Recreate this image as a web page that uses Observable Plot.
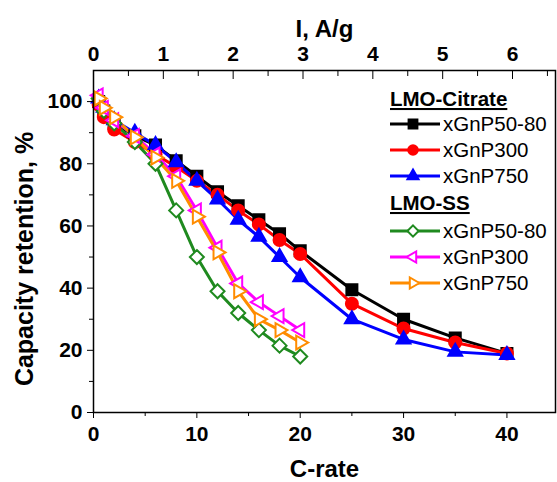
<!DOCTYPE html>
<html><head><meta charset="utf-8">
<script src="https://cdn.jsdelivr.net/npm/d3@7"></script>
<script src="https://cdn.jsdelivr.net/npm/@observablehq/plot@0.6"></script>
<style>body{margin:0;background:#fff}#chart{width:557px;height:482px}</style>
</head><body><div id="chart"></div>
<script>
// ---- data ----
const citrateRate = [0.5, 1, 2, 4, 6, 8, 10, 12, 14, 16, 18, 20, 25, 30, 35, 40];
const ssRate = [0.5, 1, 2, 4, 6, 8, 10, 12, 14, 16, 18, 20];
const citrate5080 = [100, 97, 93, 89, 86, 81, 76, 71, 66.5, 62, 57.5, 52, 39.5, 30, 24, 19];
const citrate300  = [99, 95, 91, 87, 83, 79, 74.5, 70, 65, 60.5, 55.5, 51, 35, 27, 22.5, 19];
const citrate750  = [101, 98, 94, 90, 86, 80.5, 74.5, 68.5, 62, 56.5, 50, 43.5, 30, 23.5, 19.5, 18.5];
const ss5080 = [101, 97, 93, 87, 80, 65, 50, 39, 32, 26.5, 21.5, 18];
const ss300  = [102, 98, 94, 89, 83, 76, 65, 53, 41.5, 35.5, 31, 26.5];
const ss750  = [101, 98, 95, 88.5, 82, 74.5, 63, 51.5, 39, 30, 26.5, 22.5];
const xTicks = [0, 10, 20, 30, 40];
const xMinor = [5, 15, 25, 35];
const yTicks = [0, 20, 40, 60, 80, 100];
const yMinor = [10, 30, 50, 70, 90];
const iTicks = [0, 1, 2, 3, 4, 5, 6];
const iMinor = [0.5, 1.5, 2.5, 3.5, 4.5, 5.5, 6.5];
const ampPerC = 0.148; // A/g per 1C (top axis conversion)
const legendGroups = ["LMO-Citrate", "LMO-SS"];
const seriesNames = ["xGnP50-80", "xGnP300", "xGnP750"];
const titles = {x: "C-rate", top: "I, A/g", y: "Capacity retention, %"};

// ---- symbols ----
const rOf = s => Math.sqrt(s / Math.PI);
const symSquare = {draw(c, s){const r=rOf(s); c.moveTo(-r,-r); c.lineTo(r,-r); c.lineTo(r,r); c.lineTo(-r,r); c.closePath();}};
const symCircle = {draw(c, s){const r=rOf(s); c.moveTo(r,0); c.arc(0,0,r,0,2*Math.PI);}};
const symTriUp = {draw(c, s){const R=rOf(s), h=R*Math.sqrt(3)/2; c.moveTo(0,-R); c.lineTo(h,R/2); c.lineTo(-h,R/2); c.closePath();}};
const symDiamond = {draw(c, s){const r=rOf(s); c.moveTo(0,-r); c.lineTo(r,0); c.lineTo(0,r); c.lineTo(-r,0); c.closePath();}};
const symTriLeft = {draw(c, s){const R=rOf(s), h=R*Math.sqrt(3)/2; c.moveTo(-R,0); c.lineTo(R/2,-h); c.lineTo(R/2,h); c.closePath();}};
const symTriRight = {draw(c, s){const R=rOf(s), h=R*Math.sqrt(3)/2; c.moveTo(R,0); c.lineTo(-R/2,-h); c.lineTo(-R/2,h); c.closePath();}};

const series = [
  {group: 0, name: 0, color: "#000000", fill: "#000000", sym: symSquare, r: 5.5, xs: citrateRate, ys: citrate5080},
  {group: 0, name: 1, color: "#ff0000", fill: "#ff0000", sym: symCircle, r: 6, xs: citrateRate, ys: citrate300},
  {group: 0, name: 2, color: "#0000ff", fill: "#0000ff", sym: symTriUp, r: 8, xs: citrateRate, ys: citrate750},
  {group: 1, name: 0, color: "#1f8a1f", fill: "#ffffff", sym: symDiamond, r: 7, xs: ssRate, ys: ss5080},
  {group: 1, name: 1, color: "#ff00ff", fill: "#ffffff", sym: symTriLeft, r: 8, xs: ssRate, ys: ss300},
  {group: 1, name: 2, color: "#ff8c00", fill: "#ffffff", sym: symTriRight, r: 8, xs: ssRate, ys: ss750}
];

const marks = [];
for (const s of series) {
  const rows = s.xs.map((x, i) => ({x, y: s.ys[i]}));
  marks.push(Plot.line(rows, {x: "x", y: "y", stroke: s.color, strokeWidth: 3}));
}
for (const s of series) {
  const rows = s.xs.map((x, i) => ({x, y: s.ys[i]}));
  marks.push(Plot.dot(rows, {x: "x", y: "y", symbol: s.sym, r: s.r, fill: s.fill, stroke: s.color, strokeWidth: 2}));
}

const tickFont = {fontSize: 21, fontWeight: "bold"};
const chart = Plot.plot({
  width: 557, height: 482,
  marginLeft: 93, marginRight: 2, marginTop: 70, marginBottom: 70,
  style: {fontFamily: "'Liberation Sans', Arial, sans-serif", color: "#000", background: "#fff"},
  x: {domain: [0, 44.7]},
  y: {domain: [0, 110]},
  marks: [
    ...marks,
    Plot.frame({stroke: "#000", strokeWidth: 1.5}),
    Plot.axisX(xTicks, {anchor: "bottom", tickSize: 6, tickPadding: 8, label: null, ...tickFont}),
    Plot.axisX(xMinor, {anchor: "bottom", tickSize: 4, tickFormat: () => "", label: null}),
    Plot.axisY(yTicks, {anchor: "left", tickSize: 6, tickPadding: 5, label: null, ...tickFont}),
    Plot.axisY(yMinor, {anchor: "left", tickSize: 4, tickFormat: () => "", label: null}),
    Plot.axisX(iTicks.map(i => i / ampPerC), {anchor: "top", tickSize: 0, tickPadding: 10, label: null,
      tickFormat: d => String(Math.round(d * ampPerC)), ...tickFont}),
    Plot.axisX(iTicks.map(i => i / ampPerC), {anchor: "top", tickSize: -8, tickFormat: () => "", label: null}),
    Plot.axisX(iMinor.map(i => i / ampPerC), {anchor: "top", tickSize: -5, tickFormat: () => "", label: null}),
    Plot.text([titles.x], {frameAnchor: "bottom", dy: 57, lineAnchor: "middle", fontSize: 24, fontWeight: "bold"}),
    Plot.text([titles.top], {frameAnchor: "top", dy: -41, lineAnchor: "middle", fontSize: 24, fontWeight: "bold"})
  ]
});
document.getElementById("chart").appendChild(chart);

const svg = d3.select(chart);
// ---- y title ----
svg.append("text").attr("transform", "translate(24,259) rotate(-90)")
  .attr("text-anchor", "middle").attr("dominant-baseline", "central")
  .attr("font-family", "'Liberation Sans', Arial, sans-serif")
  .attr("font-size", 25).attr("font-weight", "bold").attr("fill", "#000").text(titles.y);

// ---- legend ----
const lg = svg.append("g").attr("font-family", "'Liberation Sans', Arial, sans-serif").attr("text-anchor", "start");
const headerY = [106, 210];
const rowY = [[124, 150, 176], [231, 257, 283]];
legendGroups.forEach((g, gi) => {
  lg.append("text").attr("x", 390).attr("y", headerY[gi]).attr("font-size", 20.5).attr("font-weight", "bold")
    .attr("text-decoration", "underline").attr("fill", "#000").text(g);
});
series.forEach(s => {
  const y = rowY[s.group][s.name];
  lg.append("line").attr("x1", 390).attr("x2", 440).attr("y1", y).attr("y2", y).attr("stroke", s.color).attr("stroke-width", 3);
  lg.append("path").attr("transform", `translate(413,${y})`)
    .attr("d", d3.symbol(s.sym, (s.r * 0.8) ** 2 * Math.PI)())
    .attr("fill", s.fill).attr("stroke", s.color).attr("stroke-width", 2);
  lg.append("text").attr("x", 443).attr("y", y + 7).attr("font-size", 20.5).attr("fill", "#000").text(seriesNames[s.name]);
});
</script>
</body></html>
